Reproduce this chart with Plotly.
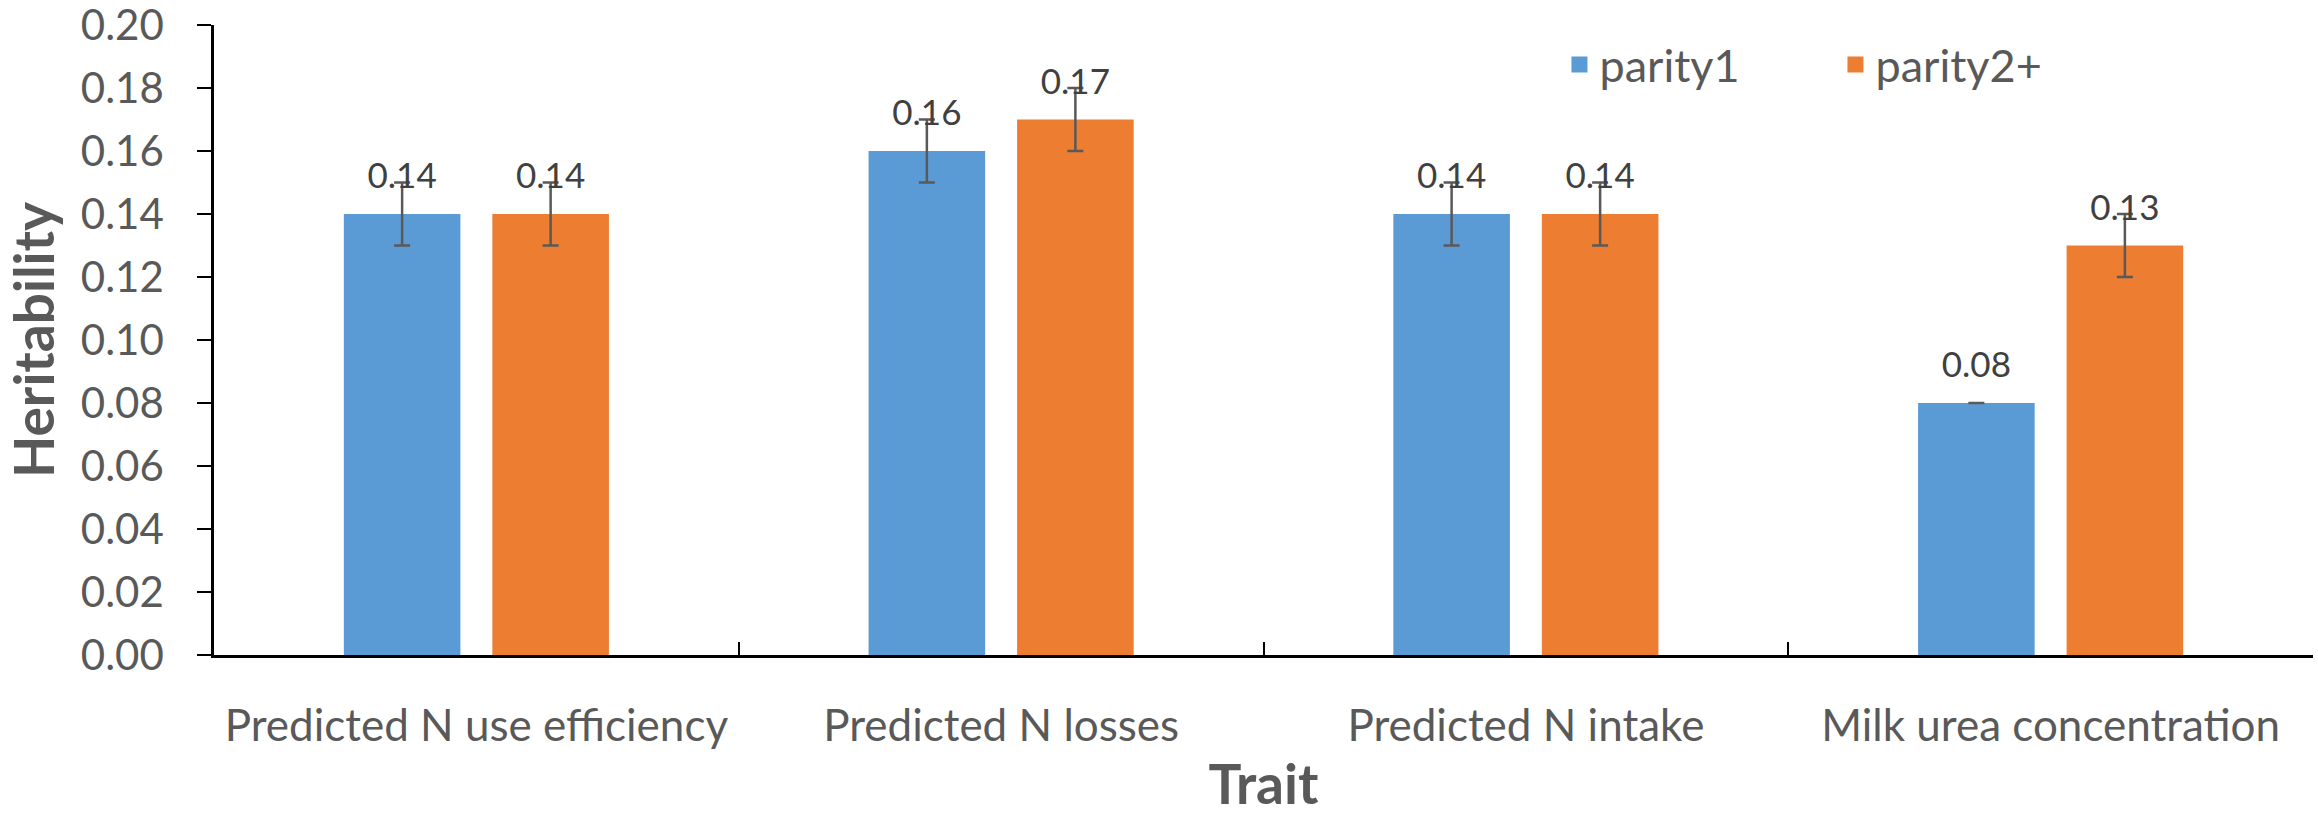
import plotly.graph_objects as go

traits = ["Predicted N use efficiency", "Predicted N losses", "Predicted N intake", "Milk urea concentration"]
series_names = ["parity1", "parity2+"]
parity1 = [0.14, 0.16, 0.14, 0.08]
parity2 = [0.14, 0.17, 0.14, 0.13]
err_parity1 = [0.01, 0.01, 0.01, 0.0]
err_parity2 = [0.01, 0.01, 0.01, 0.01]
y_ticks = [0.00, 0.02, 0.04, 0.06, 0.08, 0.10, 0.12, 0.14, 0.16, 0.18, 0.20]
colors = ["#5B9BD5", "#ED7D31"]

FONT = "Lato, Carlito, Calibri, sans-serif"
GREY = "#595959"
BARGAP = 0.434

fig = go.Figure()
for name, vals, errs, col in zip(series_names, [parity1, parity2], [err_parity1, err_parity2], colors):
    fig.add_trace(go.Bar(
        x=traits, y=vals, name=name, offsetgroup=name, showlegend=False,
        marker=dict(color=col, line=dict(width=0)),
        error_y=dict(type="data", array=errs, visible=True, color=GREY, thickness=2.5, width=8),
        hoverinfo="skip",
    ))
for name, vals, col in zip(series_names, [parity1, parity2], colors):
    fig.add_trace(go.Scatter(
        x=traits, y=vals, mode="markers+text", offsetgroup=name,
        text=[f"{v:.2f}" for v in vals], textposition="top center",
        textfont=dict(family=FONT, size=35, color="#404040"),
        marker=dict(size=26, opacity=0), showlegend=False, hoverinfo="skip",
    ))
    # legend entry (no data drawn)
    fig.add_trace(go.Scatter(
        x=[traits[0]], y=[None], mode="markers", name=name, offsetgroup=name,
        marker=dict(symbol="square", size=19, color=col), hoverinfo="skip",
    ))

fig.update_layout(
    width=2318, height=816,
    paper_bgcolor="white", plot_bgcolor="white",
    margin=dict(l=214, r=5, t=25, b=161),
    barmode="group", bargap=BARGAP, bargroupgap=0.215,
    scattermode="group", scattergap=BARGAP,
    font=dict(family=FONT, color=GREY),
    legend=dict(orientation="h", x=0.641, xanchor="left", y=0.937, yanchor="middle",
                font=dict(family=FONT, size=45, color=GREY), entrywidth=231,
                itemsizing="trace", bgcolor="rgba(0,0,0,0)"),
    showlegend=True,
)
fig.update_yaxes(
    range=[0, 0.2], tickvals=y_ticks, ticktext=[f"{v:.2f}" for v in y_ticks],
    showgrid=False, zeroline=False, showline=True, linecolor="black", linewidth=2.5,
    ticks="outside", ticklen=14, tickwidth=2, tickcolor="black",
    tickfont=dict(family=FONT, size=42, color=GREY), ticklabelstandoff=25,
    ticklabeloverflow="allow",
    title=dict(text="Heritability", font=dict(family="Lato", size=55, color=GREY, weight="bold"), standoff=14),
    automargin=False,
)
fig.update_xaxes(
    showgrid=False, zeroline=False, showline=True, linecolor="black", linewidth=3,
    ticks="inside", tickson="boundaries", ticklen=13, tickwidth=2, tickcolor="black",
    tickfont=dict(family=FONT, size=44, color=GREY), ticklabelstandoff=30,
    ticklabeloverflow="allow",
    title=dict(text="Trait", font=dict(family="Lato", size=55, color=GREY, weight="bold"), standoff=18),
    automargin=False,
)
fig.write_html("out.html", post_script="document.body.style.margin='0';",
               config={"displayModeBar": False})
